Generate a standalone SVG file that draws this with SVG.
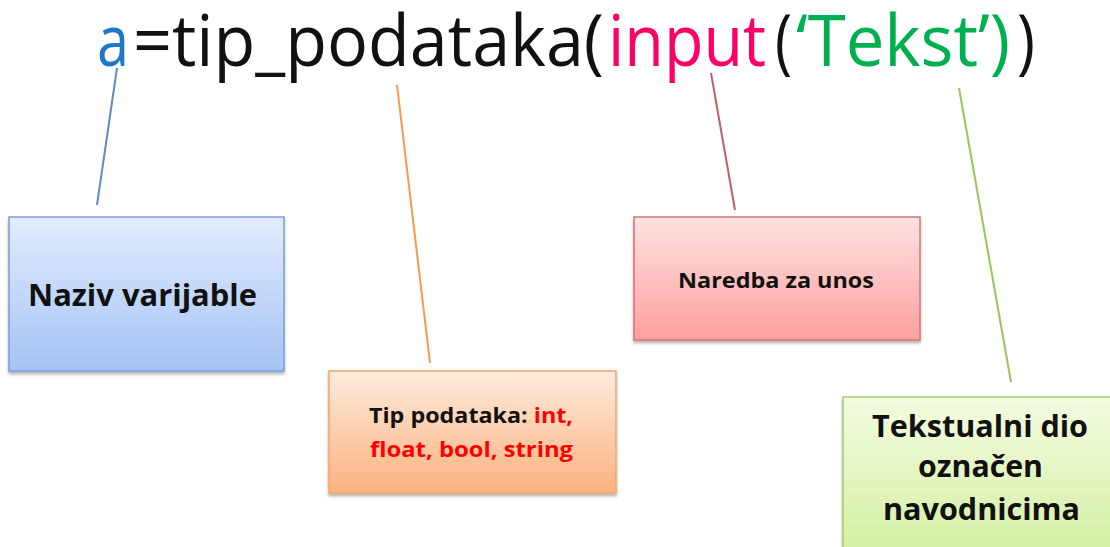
<svg xmlns="http://www.w3.org/2000/svg" width="1110" height="547" viewBox="0 0 1110 547">
<defs>
<linearGradient id="gBlue" x1="0" y1="0" x2="0" y2="1"><stop offset="0" stop-color="#E2ECFD"/><stop offset="1" stop-color="#A5C3F5"/></linearGradient>
<linearGradient id="gOrange" x1="0" y1="0" x2="0" y2="1"><stop offset="0" stop-color="#FFEBDD"/><stop offset="1" stop-color="#FBB27E"/></linearGradient>
<linearGradient id="gRed" x1="0" y1="0" x2="0" y2="1"><stop offset="0" stop-color="#FFE2E2"/><stop offset="1" stop-color="#FF9F9F"/></linearGradient>
<linearGradient id="gGreen" x1="0" y1="0" x2="0" y2="1"><stop offset="0" stop-color="#F3FCE0"/><stop offset="1" stop-color="#D2EE9E"/></linearGradient>
<filter id="sh" x="-10%" y="-10%" width="120%" height="130%"><feDropShadow dx="0" dy="2.5" stdDeviation="1.5" flood-color="#000" flood-opacity="0.3"/></filter>
</defs>
<style>
.lbl{font-family:"Open Sans","Liberation Sans",sans-serif;font-weight:bold;fill:#111;text-anchor:middle}
.ttl{font-family:"Open Sans","Liberation Sans",sans-serif;font-size:72px}
.ln{stroke-width:2;fill:none}
</style>
<rect width="1110" height="547" fill="#fff"/>
<g id="title">
<text class="ttl" x="97" y="66" fill="#1F77C9" textLength="32" lengthAdjust="spacingAndGlyphs">a</text>
<text class="ttl" x="133" y="66" fill="#111" textLength="471" lengthAdjust="spacingAndGlyphs">=tip_podataka(</text>
<text class="ttl" x="608" y="66" fill="#FF0066" textLength="158" lengthAdjust="spacingAndGlyphs">input</text>
<text class="ttl" x="775" y="66" fill="#111" textLength="17" lengthAdjust="spacingAndGlyphs">(</text>
<text class="ttl" x="796" y="66" fill="#00B050" textLength="214" lengthAdjust="spacingAndGlyphs">‘Tekst’)</text>
<text class="ttl" x="1017" y="66" fill="#111" textLength="18" lengthAdjust="spacingAndGlyphs">)</text>
</g>
<g id="connectors">
<line class="ln" x1="117" y1="68" x2="97" y2="205" stroke="#5F8BCB"/>
<line class="ln" x1="397" y1="85" x2="430" y2="363" stroke="#F79A4E"/>
<line class="ln" x1="711" y1="73" x2="735" y2="210" stroke="#C0606A"/>
<line class="ln" x1="959" y1="88" x2="1011" y2="382" stroke="#9BC45A"/>
</g>
<g id="node-naziv">
<rect x="9" y="217" width="275" height="154" fill="url(#gBlue)" stroke="#7A9ED6" stroke-width="1.5" filter="url(#sh)"/>
<text class="lbl" x="142.5" y="306" font-size="30" textLength="229" lengthAdjust="spacingAndGlyphs">Naziv varijable</text>
</g>
<g id="node-tip">
<rect x="329" y="371" width="287" height="122" fill="url(#gOrange)" stroke="#F5A56A" stroke-width="1.5" filter="url(#sh)"/>
<text class="lbl" x="471" y="423" font-size="22" textLength="204" lengthAdjust="spacingAndGlyphs">Tip podataka: <tspan fill="#FF0000">int,</tspan></text>
<text class="lbl" x="471.5" y="457" font-size="22" style="fill:#FF0000" textLength="203" lengthAdjust="spacingAndGlyphs">float, bool, string</text>
</g>
<g id="node-naredba">
<rect x="634" y="217" width="286" height="123" fill="url(#gRed)" stroke="#D77272" stroke-width="1.5" filter="url(#sh)"/>
<text class="lbl" x="776" y="288" font-size="22" textLength="196" lengthAdjust="spacingAndGlyphs">Naredba za unos</text>
</g>
<g id="node-tekst">
<rect x="843" y="397" width="280" height="170" fill="url(#gGreen)" stroke="#A8CC6E" stroke-width="1.5" filter="url(#sh)"/>
<text class="lbl" x="980" y="437" font-size="30" textLength="216" lengthAdjust="spacingAndGlyphs">Tekstualni dio</text>
<text class="lbl" x="980.5" y="477" font-size="30" textLength="125" lengthAdjust="spacingAndGlyphs">označen</text>
<text class="lbl" x="981.5" y="520" font-size="30" textLength="197" lengthAdjust="spacingAndGlyphs">navodnicima</text>
</g>
</svg>
